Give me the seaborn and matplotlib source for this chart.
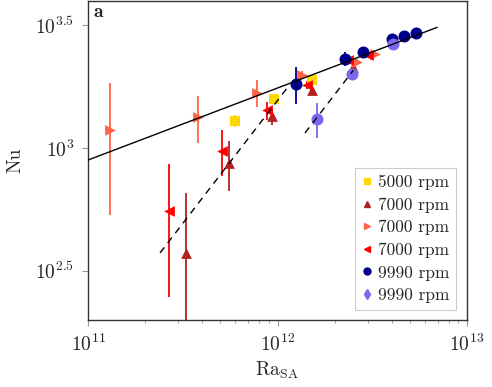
import numpy as np
import pandas as pd
import matplotlib
matplotlib.use("Agg")
import matplotlib.pyplot as plt
import matplotlib.ticker as mticker
from matplotlib.lines import Line2D
import seaborn as sns

# data (Ra_SA, Nu, +- error on Nu)
ra_5000 = [5.97e11, 9.6e11, 1.52e12]
nu_5000 = [1288, 1581, 1888]
err_5000 = [70, 40, 40]

ra_7000a = [3.29e11, 5.55e11, 9.35e11, 1.52e12, 2.5e12]
nu_7000a = [374, 869, 1349, 1722, 2133]
err_7000a = [282, 200, 110, 60, 60]

ra_7000b = [1.31e11, 3.8e11, 7.8e11, 1.35e12, 2.63e12, 3.27e12]
nu_7000b = [1183, 1337, 1675, 1983, 2238, 2410]
err_7000b = [650, 285, 210, 80, 60, 50]

ra_7000c = [2.67e11, 5.1e11, 8.8e11, 1.43e12, 2.36e12, 3.0e12]
nu_7000c = [555, 973, 1425, 1803, 2281, 2388]
err_7000c = [307, 205, 120, 70, 60, 50]

ra_9990a = [1.25e12, 2.27e12, 2.83e12, 4.02e12, 4.66e12, 5.38e12]
nu_9990a = [1820, 2301, 2455, 2773, 2851, 2933]
err_9990a = [310, 150, 120, 40, 30, 30]

ra_9990b = [1.61e12, 2.47e12, 4.07e12]
nu_9990b = [1312, 2000, 2648]
err_9990b = [213, 100, 40]

labels = ["5000 rpm", "7000 rpm", "7000 rpm", "7000 rpm", "9990 rpm", "9990 rpm"]
colors = ["#FFD700", "#B22222", "#FF6347", "#FF0000", "#00008B", "#7B68EE"]
markers = ["s", "^", ">", "<", "o", "d"]
plot_markers = ["s", "^", ">", "<", "o", "o"]

# fit lines: log10 Nu = a + b * log10 Ra
fit_solid = (2.951 - 0.293 * 11, 0.293, 11.0, 12.842)
fit_dash1 = (-8.807, 1.0, 11.38, 12.05)
fit_dash2 = (-9.084, 1.0, 12.145, 12.40)

sns.set_style("ticks")
plt.rcParams["font.family"] = "serif"
plt.rcParams["font.serif"] = ["cmr10"]
plt.rcParams["mathtext.fontset"] = "cm"
plt.rcParams["axes.unicode_minus"] = False
plt.rcParams["axes.formatter.use_mathtext"] = True

fig = plt.figure(figsize=(4.92, 3.87), dpi=100)
ax = fig.add_axes([0.1789, 0.1731, 0.7703, 0.8243])

series = [
    (ra_5000, nu_5000, err_5000),
    (ra_7000a, nu_7000a, err_7000a),
    (ra_7000b, nu_7000b, err_7000b),
    (ra_7000c, nu_7000c, err_7000c),
    (ra_9990a, nu_9990a, err_9990a),
    (ra_9990b, nu_9990b, err_9990b),
]

for (ra, nu, err), c, m in zip(series, colors, plot_markers):
    ax.errorbar(ra, nu, yerr=err, fmt="none", ecolor=c, elinewidth=1.3, zorder=2)
    df = pd.DataFrame({"Ra": ra, "Nu": nu})
    ms = 75 if m == "o" else 60
    sns.scatterplot(data=df, x="Ra", y="Nu", ax=ax, color=c, marker=m, s=ms,
                    linewidth=0, zorder=3, legend=False)

for (a, b, x0, x1), ls in [(fit_solid, "-"), (fit_dash1, (0, (5, 4))), (fit_dash2, (0, (5, 4)))]:
    lx = np.linspace(x0, x1, 50)
    ldf = pd.DataFrame({"Ra": 10 ** lx, "Nu": 10 ** (a + b * lx)})
    sns.lineplot(data=ldf, x="Ra", y="Nu", ax=ax, color="black", lw=1.0,
                 linestyle=ls, zorder=4, legend=False)

ax.set_xscale("log")
ax.set_yscale("log")
ax.set_xlim(1e11, 1e13)
ax.set_ylim(10 ** 2.3, 10 ** 3.598)

ax.xaxis.set_major_locator(mticker.FixedLocator([1e11, 1e12, 1e13]))
ax.set_xticklabels([r"$10^{11}$", r"$10^{12}$", r"$10^{13}$"])
ax.xaxis.set_minor_locator(mticker.LogLocator(base=10, subs=np.arange(2, 10)))
ax.xaxis.set_minor_formatter(mticker.NullFormatter())
ax.yaxis.set_major_locator(mticker.FixedLocator([10 ** 2.5, 10 ** 3, 10 ** 3.5]))
ax.set_yticklabels([r"$10^{2.5}$", r"$10^{3}$", r"$10^{3.5}$"])
ax.yaxis.set_minor_locator(mticker.NullLocator())

ax.tick_params(axis="both", which="major", direction="out", length=4, width=0.8,
               color="#999999", labelsize=14, pad=6)
ax.tick_params(axis="x", which="minor", direction="out", length=2.5, width=0.6,
               color="#999999")
for sp in ax.spines.values():
    sp.set_visible(True)
    sp.set_color("#333333")
    sp.set_linewidth(1.0)

ax.set_xlabel(r"$\mathrm{Ra}_{\mathrm{SA}}$", fontsize=14, labelpad=3)
ax.set_ylabel("Nu", fontsize=14, labelpad=8)
ax.text(0.012, 0.992, r"$\mathbf{a}$", transform=ax.transAxes, ha="left", va="top",
        fontsize=14)

handles = [Line2D([], [], linestyle="none", marker=m, color=c, markersize=5)
           for m, c in zip(markers, colors)]
leg = ax.legend(handles, labels, loc="lower right", bbox_to_anchor=(0.971, 0.031),
                borderaxespad=0, fontsize=12.5, frameon=True, fancybox=False,
                edgecolor="#cccccc", framealpha=1, handlelength=0.6,
                handletextpad=0.3, labelspacing=0.42, borderpad=0.4)
leg.get_frame().set_linewidth(0.8)

fig.savefig("out.png", dpi=100)
